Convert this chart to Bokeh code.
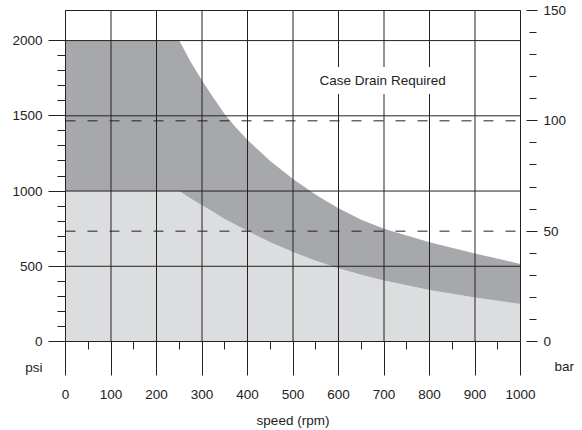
from bokeh.plotting import figure
from bokeh.models import (Range1d, LinearAxis, FixedTicker, Label)
from bokeh.embed import file_html
from bokeh.resources import INLINE

# ---- data ----
speed_rpm = [0, 250, 275, 300, 325, 350, 375, 400, 450, 500, 550, 600, 650, 700, 800, 900, 1000]
upper_psi = [2000, 2000, 1860, 1735, 1620, 1510, 1420, 1340, 1200, 1080, 975, 885, 810, 750, 660, 585, 515]
lower_psi = [1000, 1000, 950, 905, 860, 815, 775, 735, 660, 595, 537, 487, 444, 406, 342, 292, 250]

speed_ticks = [0, 100, 200, 300, 400, 500, 600, 700, 800, 900, 1000]
speed_minor = [50, 150, 250, 350, 450, 550, 650, 750, 850, 950]
psi_ticks = [0, 500, 1000, 1500, 2000]
psi_minor = [100, 200, 300, 400, 600, 700, 800, 900, 1100, 1200, 1300, 1400,
             1600, 1700, 1800, 1900]
bar_ticks = [0, 50, 100, 150]
bar_minor = [10, 20, 30, 40, 60, 70, 80, 90, 110, 120, 130, 140]
dashed_bar = [50, 100]

speed_min, speed_max = 0, 1000
psi_max = 2200
bar_max = 150

# ---- layout (pixels) ----
W, H = 574, 429
FRAME_L, FRAME_R = 65, 520      # x pixel of 0 and 1000 rpm
FRAME_T, FRAME_B = 10, 341      # y pixel of psi_max and 0 psi

kx = (FRAME_R - FRAME_L) / (speed_max - speed_min)
ky = (FRAME_B - FRAME_T) / psi_max
x_lo = speed_min - FRAME_L / kx
x_hi = speed_min + (W - FRAME_L) / kx
y_hi = FRAME_B / ky
y_lo = -(H - FRAME_B) / ky
b_per_psi = bar_max / psi_max

FONT = "Liberation Sans"
FS = "13.5px"
INK = "#222222"
DARK = "#a7a8ab"
LIGHT = "#dcdddf"

p = figure(width=W, height=H, min_border=0,
           x_range=Range1d(x_lo, x_hi), y_range=Range1d(y_lo, y_hi),
           output_backend="svg", toolbar_location=None)
p.extra_y_ranges = {"bar": Range1d(y_lo * b_per_psi, y_hi * b_per_psi)}
p.background_fill_color = "white"
p.border_fill_color = "white"
p.outline_line_color = None
p.grid.visible = False

# fills
p.varea(x=speed_rpm, y1=0, y2=lower_psi, fill_color=LIGHT)
p.varea(x=speed_rpm, y1=lower_psi, y2=upper_psi, fill_color=DARK)

# grid lines (drawn over the fills)
p.segment(x0=speed_ticks, y0=[0] * len(speed_ticks), x1=speed_ticks,
          y1=[psi_max] * len(speed_ticks), line_color=INK, line_width=1)
h_lines = psi_ticks[1:] + [psi_max]
p.segment(x0=[speed_min] * len(h_lines), y0=h_lines, x1=[speed_max] * len(h_lines),
          y1=h_lines, line_color=INK, line_width=1)
# dashed bar reference lines
p.segment(x0=[speed_min] * len(dashed_bar), y0=dashed_bar,
          x1=[speed_max] * len(dashed_bar), y1=dashed_bar,
          y_range_name="bar", line_color=INK, line_width=1, line_dash="10 12")

# x axis
xa = p.xaxis[0]
xa.fixed_location = 0
xa.bounds = (speed_min, speed_max)
xa.ticker = FixedTicker(ticks=speed_ticks, minor_ticks=speed_minor)
xa.major_tick_out = 34
xa.major_tick_in = 0
xa.minor_tick_out = 8
xa.minor_tick_in = 0
xa.major_label_standoff = 14
xa.axis_label = "speed (rpm)"
xa.axis_label_standoff = 11

# left axis (psi)
ya = p.yaxis[0]
ya.fixed_location = speed_min
ya.bounds = (0, psi_max)
ya.ticker = FixedTicker(ticks=psi_ticks, minor_ticks=psi_minor)
ya.major_tick_out = 17
ya.major_tick_in = 0
ya.minor_tick_out = 8
ya.minor_tick_in = 0
ya.major_label_standoff = 6

# right axis (bar)
ra = LinearAxis(y_range_name="bar")
ra.fixed_location = speed_max
ra.bounds = (0, bar_max)
ra.ticker = FixedTicker(ticks=bar_ticks, minor_ticks=bar_minor)
ra.major_tick_in = -6
ra.major_tick_out = 17
ra.minor_tick_in = -9
ra.minor_tick_out = 16
ra.major_label_standoff = 6
p.add_layout(ra, "right")

for ax in (xa, ya, ra):
    ax.axis_line_color = INK
    ax.major_tick_line_color = INK
    ax.minor_tick_line_color = INK
    ax.major_label_text_font = FONT
    ax.major_label_text_font_size = FS
    ax.major_label_text_color = INK
    ax.axis_label_text_font = FONT
    ax.axis_label_text_font_size = FS
    ax.axis_label_text_font_style = "normal"
    ax.axis_label_text_color = INK

# labels
p.add_layout(Label(x=697, y=1734, text="Case Drain Required", text_font=FONT,
                   text_font_size=FS, text_color=INK, text_align="center",
                   text_baseline="middle", background_fill_color="white",
                   padding=6, level="overlay"))
p.add_layout(Label(x=speed_min, y=0, x_offset=-23, y_offset=-26, text="psi",
                   text_font=FONT, text_font_size=FS, text_color=INK,
                   text_align="right", text_baseline="middle", level="overlay"))
p.add_layout(Label(x=speed_max, y=0, x_offset=34, y_offset=-25, text="bar",
                   text_font=FONT, text_font_size=FS, text_color=INK,
                   text_align="left", text_baseline="middle", level="overlay"))

open("out.html", "w").write(file_html(p, INLINE))
